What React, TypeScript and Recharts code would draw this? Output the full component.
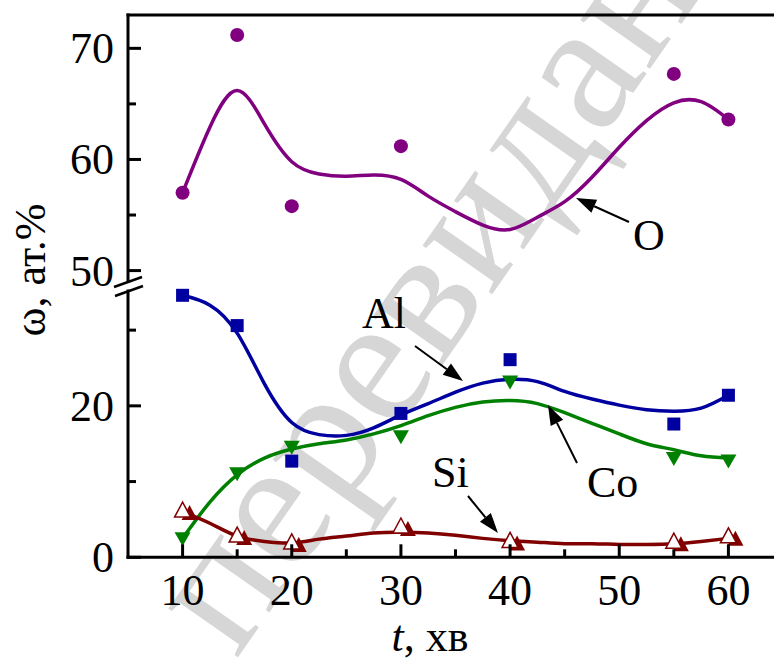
import React from "react";
import { ComposedChart, Line, Scatter, XAxis, YAxis } from "recharts";

// measured points
const sampleTimes = [10, 15, 20, 30, 40, 55, 60];
const oxygenPts = [57.0, 71.2, 55.8, 61.2, null, 67.7, 63.6];
const aluminiumPts = [34.6, 30.6, 12.7, 19.0, 26.1, 17.6, 21.4];
const cobaltPts = [2.5, 11.1, 14.6, 16.0, 23.2, 13.1, 12.8];
const siliconPts = [6.1, 2.8, 1.9, 4.0, 2.1, 2.0, 2.7];

// fitted curves, every 2.5 min
const fitTimes = [10, 12.5, 15, 17.5, 20, 22.5, 25, 27.5, 30, 32.5, 35, 37.5, 40, 42.5, 45, 47.5, 50, 52.5, 55, 57.5, 60];
const oxygenFit = [57.0, 62.9, 66.2, 63.2, 59.8, 58.7, 58.5, 58.6, 58.2, 56.7, 55.3, 54.1, 53.7, 54.8, 56.2, 58.4, 61.1, 63.5, 65.1, 65.2, 63.6];
const aluminiumFit = [34.6, 33.3, 29.6, 22.9, 17.8, 16.2, 16.1, 17.1, 18.8, 20.3, 21.8, 23.0, 23.5, 23.2, 21.9, 20.9, 20.1, 19.5, 19.3, 19.7, 21.4];
const cobaltFit = [2.5, 7.3, 10.9, 13.1, 14.3, 15.0, 15.5, 16.3, 17.4, 18.7, 19.8, 20.5, 20.7, 20.3, 19.1, 17.7, 16.3, 15.0, 14.2, 13.4, 13.1];
const siliconFit = [6.0, 4.5, 2.8, 2.1, 1.9, 2.4, 2.8, 3.2, 3.3, 3.2, 2.9, 2.5, 2.2, 2.0, 1.8, 1.8, 1.7, 1.7, 1.8, 2.1, 2.5];

const timeMajor = [10, 20, 30, 40, 50, 60];
const timeMinor = [15, 25, 35, 45, 55];
const upperMajor = [50, 60, 70];
const upperMinor = [55, 65];
const lowerMajor = [0, 20];
const lowerMinor = [10, 30];

const FONT = "'Liberation Serif', 'Times New Roman', serif";
const PURPLE = "#800080";
const BLUE = "#0000a0";
const GREEN = "#008000";
const DARKRED = "#800000";

const toPoints = (ys: (number | null)[]) =>
  sampleTimes.map((t, i) => ({ t, v: ys[i] })).filter((p) => p.v !== null);
const toFit = (ys: number[]) => fitTimes.map((t, i) => ({ t, v: ys[i] }));

const XTick = (props: any) => {
  const { x, y, payload } = props;
  const major = timeMajor.includes(payload.value);
  return (
    <g>
      <line x1={x} x2={x} y1={y} y2={y - (major ? 13 : 8)} stroke="#000" strokeWidth={3} />
      {major && (
        <text x={x} y={y + 48} textAnchor="middle" fontFamily={FONT} fontSize={44} fill="#000">
          {payload.value}
        </text>
      )}
    </g>
  );
};

const makeYTick = (majors: number[]) => (props: any) => {
  const { x, y, payload } = props;
  const major = majors.includes(payload.value);
  return (
    <g>
      <line x1={x} x2={x + (major ? 13 : 8)} y1={y} y2={y} stroke="#000" strokeWidth={3} />
      {major && (
        <text x={x - 14} y={y + 15} textAnchor="end" fontFamily={FONT} fontSize={44} fill="#000">
          {payload.value}
        </text>
      )}
    </g>
  );
};

const Circle = (p: any) => <circle cx={p.cx} cy={p.cy} r={7} fill={PURPLE} />;
const Square = (p: any) => <rect x={p.cx - 6.5} y={p.cy - 6.5} width={13} height={13} fill={BLUE} />;
const DownTri = (p: any) => (
  <polygon points={`${p.cx - 8},${p.cy - 6} ${p.cx + 8},${p.cy - 6} ${p.cx},${p.cy + 8}`} fill={GREEN} />
);
const UpTri = (p: any) => (
  <g>
    <polygon points={`${p.cx + 7},${p.cy - 6} ${p.cx - 1},${p.cy + 9} ${p.cx + 15},${p.cy + 9}`} fill={DARKRED} />
    <polygon points={`${p.cx},${p.cy - 9} ${p.cx - 8},${p.cy + 6} ${p.cx + 8},${p.cy + 6}`} fill="#fff" stroke={DARKRED} strokeWidth={1.5} />
  </g>
);

const Arrow = ({ x1, y1, x2, y2 }: { x1: number; y1: number; x2: number; y2: number }) => {
  const len = Math.hypot(x2 - x1, y2 - y1);
  const ux = (x2 - x1) / len;
  const uy = (y2 - y1) / len;
  const bx = x2 - ux * 20;
  const by = y2 - uy * 20;
  return (
    <g>
      <line x1={x1} y1={y1} x2={bx} y2={by} stroke="#000" strokeWidth={2} />
      <polygon points={`${x2},${y2} ${bx - uy * 7},${by + ux * 7} ${bx + uy * 7},${by - ux * 7}`} fill="#000" />
    </g>
  );
};

const W = 800;
const H = 658;
const axisStyle = { stroke: "#000", strokeWidth: 3, strokeLinecap: "square" as const };
const LINE_W = 3.5;

export default function App() {
  return (
    <div style={{ position: "fixed", left: 0, top: 0, width: 774, height: 658, overflow: "hidden", background: "#fff" }}>
      <svg width={774} height={658} style={{ position: "absolute", left: 0, top: 0 }}>
        <text
          x={236}
          y={660}
          transform="rotate(-55 236 660)"
          fontFamily={FONT}
          fontSize={185}
          fill="#d6d6d6"
        >
          перевидання
        </text>
      </svg>

      <div style={{ position: "absolute", left: 0, top: 0 }}>
        <ComposedChart width={W} height={H} margin={{ top: 14, bottom: H - 281.7, left: 127, right: W - 783 }}>
          <XAxis type="number" dataKey="t" domain={[5, 65]} orientation="top" height={1} tick={false} tickLine={false} axisLine={axisStyle} />
          <YAxis
            type="number"
            dataKey="v"
            domain={[49, 73]}
            ticks={[...upperMajor, ...upperMinor]}
            interval={0}
            width={1}
            tickSize={0}
            tickMargin={0}
            tickLine={false}
            tick={makeYTick(upperMajor)}
            axisLine={axisStyle}
          />
          <Line data={toFit(oxygenFit)} dataKey="v" type="natural" stroke={PURPLE} strokeWidth={LINE_W} dot={false} activeDot={false} isAnimationActive={false} />
          <Scatter data={toPoints(oxygenPts)} dataKey="v" shape={Circle} isAnimationActive={false} />
        </ComposedChart>
      </div>

      <div style={{ position: "absolute", left: 0, top: 0 }}>
        <ComposedChart width={W} height={H} margin={{ top: 290, bottom: H - 558.3, left: 127, right: W - 783 }}>
          <XAxis
            type="number"
            dataKey="t"
            domain={[5, 65]}
            ticks={[...timeMajor, ...timeMinor]}
            interval={0}
            height={1}
            tickSize={0}
            tickMargin={0}
            tickLine={false}
            tick={XTick}
            axisLine={axisStyle}
          />
          <YAxis
            type="number"
            dataKey="v"
            domain={[0, 35.3]}
            ticks={[...lowerMajor, ...lowerMinor]}
            interval={0}
            width={1}
            tickSize={0}
            tickMargin={0}
            tickLine={false}
            tick={makeYTick(lowerMajor)}
            axisLine={axisStyle}
          />
          <Line data={toFit(aluminiumFit)} dataKey="v" type="natural" stroke={BLUE} strokeWidth={LINE_W} dot={false} activeDot={false} isAnimationActive={false} />
          <Line data={toFit(cobaltFit)} dataKey="v" type="natural" stroke={GREEN} strokeWidth={LINE_W} dot={false} activeDot={false} isAnimationActive={false} />
          <Line data={toFit(siliconFit)} dataKey="v" type="natural" stroke={DARKRED} strokeWidth={LINE_W} dot={false} activeDot={false} isAnimationActive={false} />
          <Scatter data={toPoints(aluminiumPts)} dataKey="v" shape={Square} isAnimationActive={false} />
          <Scatter data={toPoints(cobaltPts)} dataKey="v" shape={DownTri} isAnimationActive={false} />
          <Scatter data={toPoints(siliconPts)} dataKey="v" shape={UpTri} isAnimationActive={false} />
        </ComposedChart>
      </div>

      <svg width={774} height={658} style={{ position: "absolute", left: 0, top: 0 }}>
        <rect x={118} y={282.5} width={20} height={7} fill="#fff" />
        <line x1={114} y1={287} x2={142} y2={277} stroke="#000" strokeWidth={2.5} />
        <line x1={115} y1={296} x2={143} y2={286} stroke="#000" strokeWidth={2.5} />

        <text x={45} y={270} transform="rotate(-90 45 270)" textAnchor="middle" fontFamily={FONT} fontSize={44} fill="#000">
          ω, ат.%
        </text>
        <text x={430} y={651} textAnchor="middle" fontFamily={FONT} fontSize={44} fill="#000">
          <tspan fontStyle="italic">t</tspan>, хв
        </text>

        <text x={633} y={250} fontFamily={FONT} fontSize={44} fill="#000">O</text>
        <text x={362} y={328} fontFamily={FONT} fontSize={44} fill="#000">Al</text>
        <text x={587} y={497} fontFamily={FONT} fontSize={44} fill="#000">Co</text>
        <text x={432} y={487} fontFamily={FONT} fontSize={44} fill="#000">Si</text>

        <Arrow x1={629} y1={222} x2={576} y2={198} />
        <Arrow x1={415} y1={346} x2={463} y2={381} />
        <Arrow x1={468} y1={496} x2={498} y2={533} />
        <Arrow x1={577} y1={463} x2={548} y2={405} />
      </svg>
    </div>
  );
}
